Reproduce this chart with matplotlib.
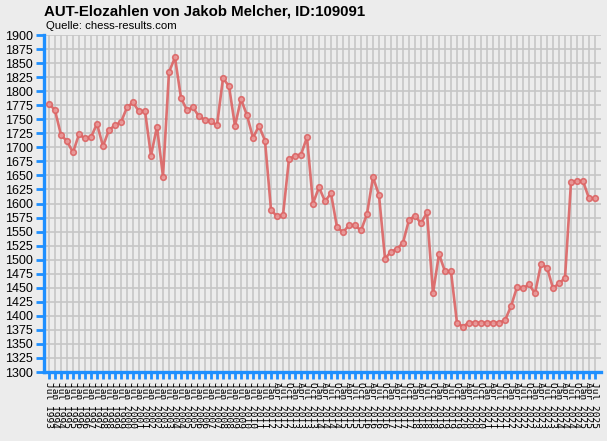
import matplotlib
matplotlib.use('Agg')
import matplotlib.pyplot as plt

# AUT-Elo Verlauf
elo = [1778, 1766, 1722, 1711, 1691, 1723, 1716, 1718, 1742, 1702,
       1731, 1739, 1745, 1771, 1780, 1764, 1765, 1685, 1737, 1648,
       1834, 1860, 1788, 1766, 1771, 1755, 1749, 1746, 1739, 1823,
       1809, 1738, 1786, 1757, 1717, 1738, 1712, 1589, 1577, 1579,
       1679, 1685, 1687, 1718, 1600, 1629, 1604, 1618, 1558, 1549,
       1561, 1561, 1552, 1581, 1647, 1615, 1502, 1514, 1519, 1530,
       1571, 1578, 1565, 1584, 1440, 1510, 1479, 1479, 1387, 1381,
       1388, 1388, 1388, 1388, 1388, 1388, 1392, 1417, 1451, 1449,
       1456, 1440, 1492, 1486, 1449, 1458, 1467, 1638, 1640, 1640,
       1609, 1609]

# Beschriftungen: bis 2012 halbjaehrlich, danach quartalsweise
labels = []
for y in range(1993, 2012):
    if y > 1993:
        labels.append('Jan %d' % y)
    labels.append('Jul %d' % y)
labels.append('Jan 2012')
for y in range(2012, 2026):
    for m in ['Jan', 'Apr', 'Jul', 'Oct']:
        if y == 2012 and m == 'Jan':
            continue
        if y == 2025 and m == 'Oct':
            continue
        labels.append('%s %d' % (m, y))
labels = labels[:len(elo)]

yticks = list(range(1300, 1901, 25))

bg = '#ececec'
blue = '#1e8fff'
red = '#dc6464'

plt.rcParams['font.family'] = ['Liberation Sans', 'DejaVu Sans']

fig = plt.figure(figsize=(6.07, 4.41), dpi=100, facecolor=bg)
ax = fig.add_axes([44 / 607, 69 / 441, 557 / 607, 337 / 441])
ax.set_facecolor(bg)

x = list(range(len(elo)))
ax.plot(x, elo, color=red, lw=1.9, alpha=0.9, marker='o', markersize=4,
        markerfacecolor='#e99a9a', markeredgecolor=red, markeredgewidth=1.2,
        zorder=3)

ax.set_xlim(-0.83, 92.0)
ax.set_ylim(1300, 1900)
ax.set_yticks(yticks)
ax.set_yticklabels([str(v) for v in yticks], fontsize=9)
ax.set_xticks(x)
ax.set_xticklabels(labels, rotation=-90, fontsize=6.8,
                   family='DejaVu Sans Mono', va='top', ha='center')

ax.grid(True, color='#c6c6c6', lw=1.2, zorder=0)
ax.set_axisbelow(True)

for s in ['top', 'right']:
    ax.spines[s].set_visible(False)
for s in ['left', 'bottom']:
    ax.spines[s].set_color(blue)
    ax.spines[s].set_linewidth(2.4)

ax.tick_params(axis='y', colors=blue, length=6, width=2, labelcolor='black', pad=2)
ax.tick_params(axis='x', colors=blue, length=5, width=2, labelcolor='black', pad=2)

fig.text(44 / 607, 1 - 5 / 441, 'AUT-Elozahlen von Jakob Melcher, ID:109091',
         fontsize=10.8, fontweight='bold', va='top', ha='left')
fig.text(46 / 607, 1 - 21 / 441, 'Quelle: chess-results.com',
         fontsize=8.2, va='top', ha='left')

fig.savefig('out.png', dpi=100, facecolor=bg)
